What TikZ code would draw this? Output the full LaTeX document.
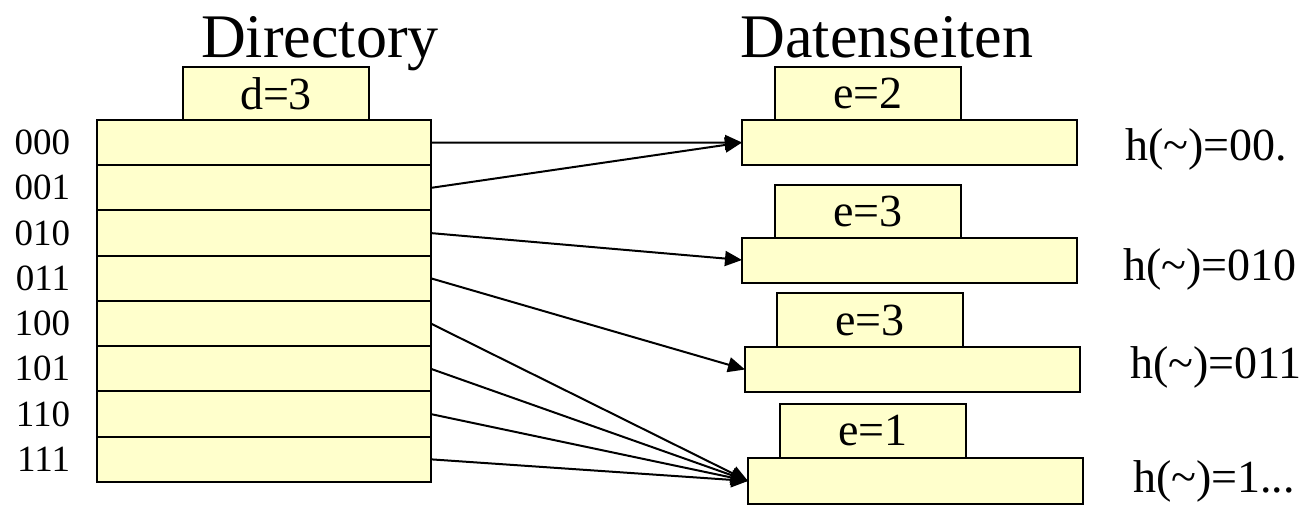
\documentclass[tikz,border=0pt]{standalone}
\usepackage{fontspec}
\setmainfont{LiberationSerif}[Extension=.ttf, UprightFont=*-Regular]
\usetikzlibrary{arrows.meta}
\usetikzlibrary{positioning}
\definecolor{pageyellow}{HTML}{FFFFCC}

\begin{document}
\begin{tikzpicture}[x=1pt, y=1pt, line width=2pt, font=\rmfamily]
        \tikzset{
          >={Triangle[length=17pt,width=15pt]},
          node distance=0pt,
          every node/.style={inner sep=0pt, outer sep=0pt},
          ptr/.style={->, line width=2pt},
          slot/.style={draw, line width=2pt, fill=pageyellow,
            minimum width=334pt, minimum height=45.25pt},
          page/.style={draw, line width=2pt, fill=pageyellow,
            minimum width=335pt, minimum height=45pt},
          tab/.style={draw, line width=2pt, fill=pageyellow,
            minimum width=186pt, minimum height=53pt,
            font=\rmfamily\fontsize{46}{50}\selectfont},
          title/.style={font=\rmfamily\fontsize{62}{66}\selectfont, anchor=base},
          bits/.style={font=\rmfamily\fontsize{37}{40}\selectfont},
          hash/.style={font=\rmfamily\fontsize{46}{50}\selectfont, anchor=base west},
        }
        \useasboundingbox (0,0) rectangle (1310,-509);

        \node[title] (dir) at (320,-57) {Directory};
        \node[title] (dat) at (887,-57) {Datenseiten};

        \node[slot] (r0) at (264,-142.6) {};
        \node[slot, below=of r0] (r1) {};
        \node[slot, below=of r1] (r2) {};
        \node[slot, below=of r2] (r3) {};
        \node[slot, below=of r3] (r4) {};
        \node[slot, below=of r4] (r5) {};
        \node[slot, below=of r5] (r6) {};
        \node[slot, below=of r6] (r7) {};
        \node[tab, above=of r0, xshift=12pt] (d) {d=3};

        \node[bits, left=27pt of r0] (b0) {000};
        \node[bits, left=27pt of r1] (b1) {001};
        \node[bits, left=27pt of r2] (b2) {010};
        \node[bits, left=27pt of r3] (b3) {011};
        \node[bits, left=27pt of r4] (b4) {100};
        \node[bits, left=27pt of r5] (b5) {101};
        \node[bits, left=27pt of r6] (b6) {110};
        \node[bits, left=27pt of r7] (b7) {111};

        \node[page] (p1) at (909.5,-142.5) {};
        \node[page] (p2) at (909.5,-260) {};
        \node[page] (p3) at (912.5,-369.5) {};
        \node[page, minimum height=46pt] (p4) at (915.5,-481) {};
        \node[tab, above=of p1, xshift=-41.5pt] (e1) {e=2};
        \node[tab, above=of p2, xshift=-41.5pt] (e2) {e=3};
        \node[tab, above=of p3, xshift=-42.5pt, minimum height=54pt] (e3) {e=3};
        \node[tab, above=of p4, xshift=-42.5pt, minimum height=54pt] (e4) {e=1};

        \node[hash] (h1) at (1125,-160) {h(\textasciitilde)=00.};
        \node[hash] (h2) at (1123,-280) {h(\textasciitilde)=010};
        \node[hash] (h3) at (1130,-378) {h(\textasciitilde)=011};
        \node[hash] (h4) at (1133,-492) {h(\textasciitilde)=1...};

        \path
          (r0.east) edge[ptr] (p1.west)
          (r1.east) edge[ptr] (p1.west)
          (r2.east) edge[ptr] (p2.west)
          (r3.east) edge[ptr] (p3.west)
          (r4.east) edge[ptr] (p4.west)
          (r5.east) edge[ptr] (p4.west)
          (r6.east) edge[ptr] (p4.west)
          (r7.east) edge[ptr] (p4.west);
      \end{tikzpicture}
\end{document}
